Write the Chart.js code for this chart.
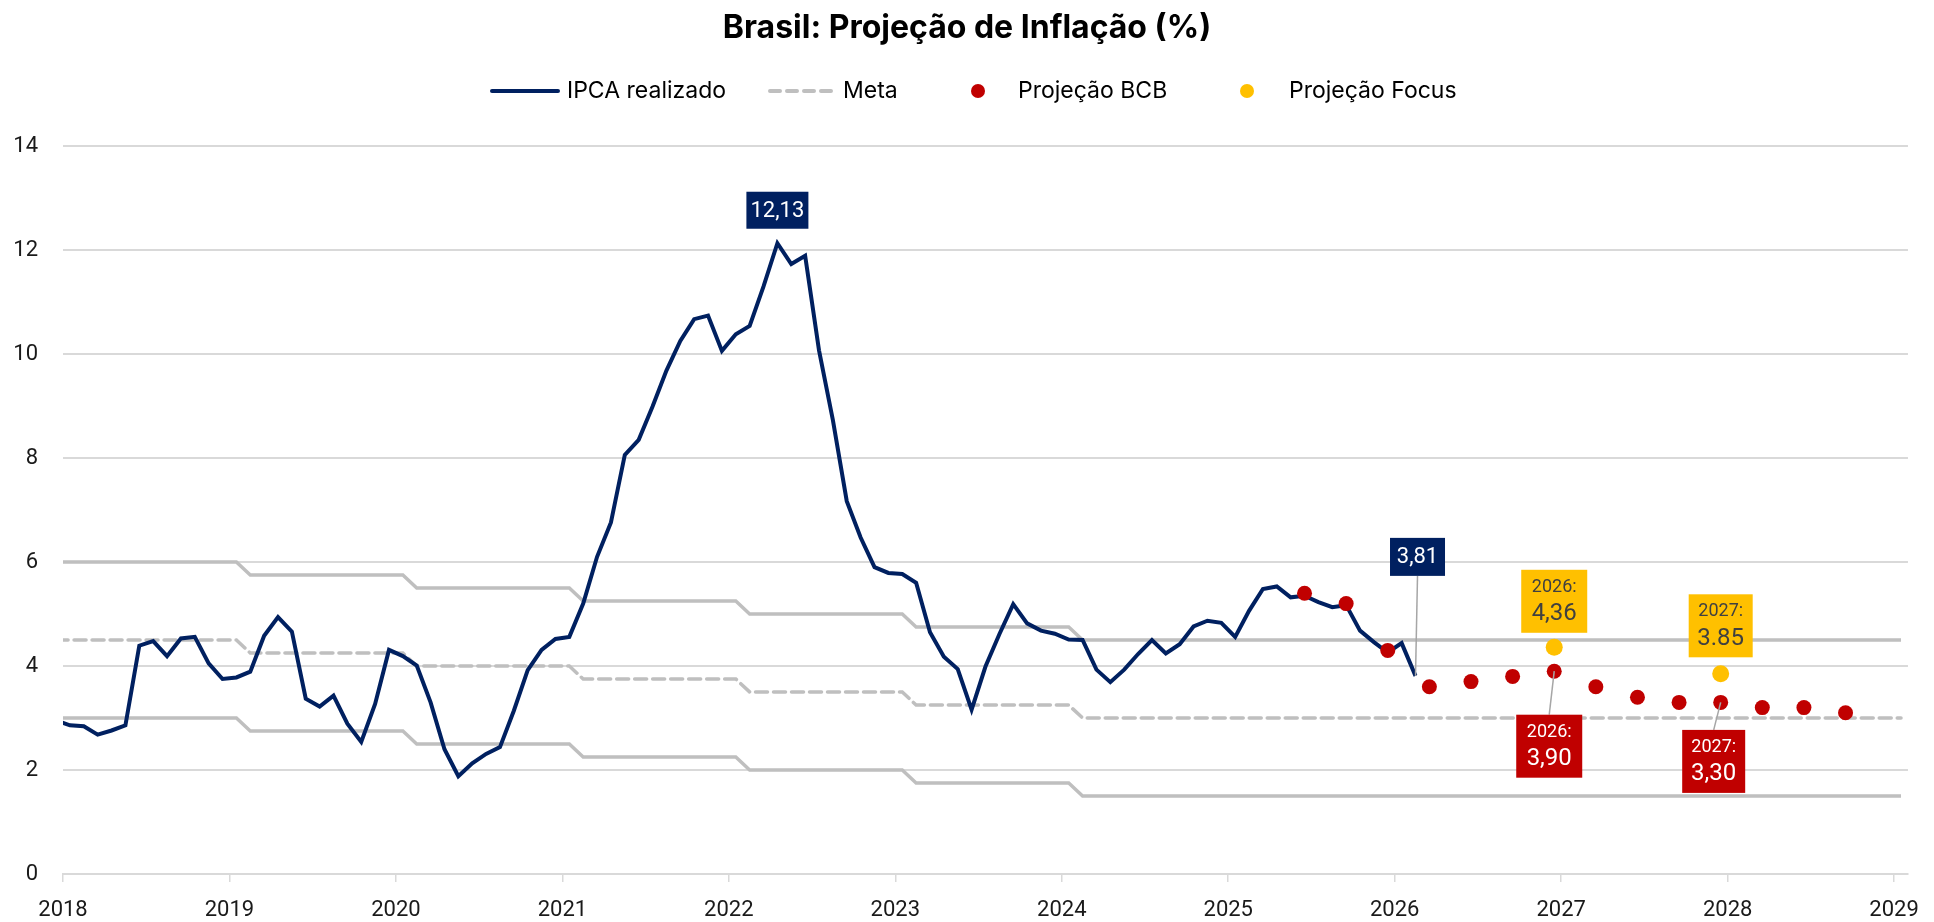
<!DOCTYPE html>
<html>
<head>
<meta charset="utf-8">
<script src="https://cdn.jsdelivr.net/npm/chart.js@4.4.1/dist/chart.umd.min.js"></script>
<style>
  html, body { margin: 0; background: #fff; }
  #wrap { width: 1934px; height: 922px; }
</style>
</head>
<body>
<div id="wrap"><canvas id="chart"></canvas></div>
<script>
// IPCA 12 meses, mensal, a partir de dez/2017
const ipcaStart = '2017-12';
const ipcaValues = [
  2.95,
  2.86, 2.84, 2.68, 2.76, 2.86, 4.39, 4.48, 4.19, 4.53, 4.56, 4.05, 3.75,
  3.78, 3.89, 4.58, 4.94, 4.66, 3.37, 3.22, 3.43, 2.89, 2.54, 3.27, 4.31,
  4.19, 4.01, 3.30, 2.40, 1.88, 2.13, 2.31, 2.44, 3.14, 3.92, 4.31, 4.52,
  4.56, 5.20, 6.10, 6.76, 8.06, 8.35, 8.99, 9.68, 10.25, 10.67, 10.74, 10.06,
  10.38, 10.54, 11.30, 12.13, 11.73, 11.89, 10.07, 8.73, 7.17, 6.47, 5.90, 5.79,
  5.77, 5.60, 4.65, 4.18, 3.94, 3.16, 3.99, 4.61, 5.19, 4.82, 4.68, 4.62,
  4.51, 4.50, 3.93, 3.69, 3.93, 4.23, 4.50, 4.24, 4.42, 4.76, 4.87, 4.83,
  4.56, 5.06, 5.48, 5.53, 5.32, 5.35, 5.23, 5.13, 5.17, 4.68, 4.46, 4.26,
  4.44, 3.81
];

// meta e bandas (pontos de mudança)
const metaDates = ['2017-12', '2019-01', '2019-02', '2020-01', '2020-02', '2021-01', '2021-02',
  '2022-01', '2022-02', '2023-01', '2023-02', '2024-01', '2024-02', '2029-01'];
const metaValues = [4.5, 4.5, 4.25, 4.25, 4.0, 4.0, 3.75, 3.75, 3.5, 3.5, 3.25, 3.25, 3.0, 3.0];
const upperValues = [6.0, 6.0, 5.75, 5.75, 5.5, 5.5, 5.25, 5.25, 5.0, 5.0, 4.75, 4.75, 4.5, 4.5];
const lowerValues = [3.0, 3.0, 2.75, 2.75, 2.5, 2.5, 2.25, 2.25, 2.0, 2.0, 1.75, 1.75, 1.5, 1.5];

const bcbDates = ['2025-06', '2025-09', '2025-12', '2026-03', '2026-06', '2026-09', '2026-12',
  '2027-03', '2027-06', '2027-09', '2027-12', '2028-03', '2028-06', '2028-09'];
const bcbValues = [5.4, 5.2, 4.3, 3.6, 3.7, 3.8, 3.9, 3.6, 3.4, 3.3, 3.3, 3.2, 3.2, 3.1];

const focusDates = ['2026-12', '2027-12'];
const focusValues = [4.36, 3.85];

const yearLabels = ['2018', '2019', '2020', '2021', '2022', '2023', '2024', '2025', '2026', '2027', '2028', '2029'];

const NAVY = '#002060';
const RED = '#c00000';
const YELLOW = '#ffc000';
const BAND = '#bfbfbf';
const GRID = '#d9d9d9';

// posição no eixo: meses desde jan/2018, no meio do mês
function monthX(s) {
  const [y, m] = s.split('-').map(Number);
  return (y - 2018) * 12 + (m - 1) + 0.5;
}
function pts(dates, values) {
  return values.map((v, i) => ({ x: monthX(dates[i]), y: v }));
}

const ipcaDates = [];
{
  let [y, m] = ipcaStart.split('-').map(Number);
  for (let i = 0; i < ipcaValues.length; i++) {
    ipcaDates.push(y + '-' + String(m).padStart(2, '0'));
    m++;
    if (m > 12) { m = 1; y++; }
  }
}

// caixas de destaque
const callouts = [
  { set: 0, date: '2022-04', lines: ['12,13'], fill: NAVY, color: '#fff', dx: 0, dy: -33, w: 62, h: 37 },
  { set: 0, date: '2026-02', lines: ['3,81'], fill: NAVY, color: '#fff', dx: 2, dy: -119, w: 55, h: 38, leader: true },
  { set: 2, date: '2026-12', lines: ['2026:', '4,36'], fill: YELLOW, color: '#404040', dx: 0, dy: -46, w: 66, h: 63 },
  { set: 2, date: '2027-12', lines: ['2027:', '3.85'], fill: YELLOW, color: '#404040', dx: 0, dy: -48, w: 64, h: 63 },
  { set: 1, date: '2026-12', lines: ['2026:', '3,90'], fill: RED, color: '#fff', dx: -5, dy: 75, w: 66, h: 63, leader: true },
  { set: 1, date: '2027-12', lines: ['2027:', '3,30'], fill: RED, color: '#fff', dx: -7, dy: 59, w: 63, h: 63, leader: true }
];
const calloutSets = [
  { dates: ipcaDates, values: ipcaValues },
  { dates: bcbDates, values: bcbValues },
  { dates: focusDates, values: focusValues }
];

const calloutPlugin = {
  id: 'callouts',
  afterDatasetsDraw(chart) {
    const { ctx, scales } = chart;
    ctx.save();
    callouts.forEach((c) => {
      const src = calloutSets[c.set];
      const v = src.values[src.dates.indexOf(c.date)];
      const px = scales.x.getPixelForValue(monthX(c.date));
      const py = scales.y.getPixelForValue(v);
      const cx = px + c.dx;
      const cy = py + c.dy;
      if (c.leader) {
        ctx.strokeStyle = '#a6a6a6';
        ctx.lineWidth = 1.5;
        ctx.beginPath();
        ctx.moveTo(px, py);
        ctx.lineTo(cx, c.dy < 0 ? cy + c.h / 2 : cy - c.h / 2);
        ctx.stroke();
      }
      ctx.fillStyle = c.fill;
      ctx.fillRect(cx - c.w / 2, cy - c.h / 2, c.w, c.h);
      ctx.fillStyle = c.color;
      ctx.textAlign = 'center';
      ctx.textBaseline = 'middle';
      if (c.lines.length === 1) {
        ctx.font = '22px Roboto';
        ctx.fillText(c.lines[0], cx, cy + 1);
      } else {
        ctx.font = '18px Roboto';
        ctx.fillText(c.lines[0], cx, cy - 14);
        ctx.font = '24px Roboto';
        ctx.fillText(c.lines[1], cx, cy + 13);
      }
    });
    ctx.restore();
  }
};

// título e legenda desenhados à mão
const chartTitle = 'Brasil: Projeção de Inflação (%)';
const legendItems = [
  { text: 'IPCA realizado', kind: 'line', color: NAVY, dash: [], x: 490, textX: 567 },
  { text: 'Meta', kind: 'line', color: BAND, dash: [10, 7], x: 768, textX: 843 },
  { text: 'Projeção BCB', kind: 'dot', color: RED, x: 978, textX: 1018 },
  { text: 'Projeção Focus', kind: 'dot', color: YELLOW, x: 1247, textX: 1289 }
];
const headerPlugin = {
  id: 'header',
  afterDraw(chart) {
    const ctx = chart.ctx;
    ctx.save();
    ctx.fillStyle = '#000';
    ctx.font = 'bold 32px Inter';
    ctx.textAlign = 'center';
    ctx.textBaseline = 'alphabetic';
    ctx.fillText(chartTitle, chart.width / 2, 38);

    const y = 91;
    legendItems.forEach((it) => {
      if (it.kind === 'line') {
        ctx.strokeStyle = it.color;
        ctx.lineWidth = 4;
        ctx.lineCap = 'round';
        ctx.setLineDash(it.dash);
        ctx.beginPath();
        ctx.moveTo(it.x + 2, y);
        ctx.lineTo(it.x + 68, y);
        ctx.stroke();
        ctx.setLineDash([]);
      } else {
        ctx.fillStyle = it.color;
        ctx.beginPath();
        ctx.arc(it.x, y, 7, 0, Math.PI * 2);
        ctx.fill();
      }
      ctx.fillStyle = '#000';
      ctx.font = '23px Inter';
      ctx.textAlign = 'left';
      ctx.textBaseline = 'middle';
      ctx.fillText(it.text, it.textX, y);
    });
    ctx.restore();
  }
};

new Chart(document.getElementById('chart'), {
  type: 'line',
  data: {
    datasets: [
      {
        label: 'Projeção Focus',
        data: pts(focusDates, focusValues),
        showLine: false,
        pointRadius: 8.5,
        pointBackgroundColor: YELLOW,
        pointBorderWidth: 0
      },
      {
        label: 'Projeção BCB',
        data: pts(bcbDates, bcbValues),
        showLine: false,
        pointRadius: 7.5,
        pointBackgroundColor: RED,
        pointBorderWidth: 0
      },
      {
        label: 'IPCA realizado',
        data: pts(ipcaDates, ipcaValues),
        borderColor: NAVY,
        borderWidth: 4,
        pointRadius: 0,
        tension: 0,
        clip: 0
      },
      {
        label: 'Meta',
        data: pts(metaDates, metaValues),
        borderColor: BAND,
        borderWidth: 3.5,
        borderDash: [12, 6],
        borderCapStyle: 'round',
        pointRadius: 0,
        clip: 0
      },
      {
        label: 'Teto',
        data: pts(metaDates, upperValues),
        borderColor: BAND,
        borderWidth: 3.5,
        pointRadius: 0,
        clip: 0
      },
      {
        label: 'Piso',
        data: pts(metaDates, lowerValues),
        borderColor: BAND,
        borderWidth: 3.5,
        pointRadius: 0,
        clip: 0
      }
    ]
  },
  options: {
    responsive: true,
    maintainAspectRatio: false,
    animation: false,
    devicePixelRatio: 1,
    layout: { padding: { left: 0, right: 24, top: 146, bottom: 0 } },
    plugins: {
      legend: { display: false },
      tooltip: { enabled: false },
      title: { display: false }
    },
    scales: {
      x: {
        type: 'linear',
        min: 0,
        max: 133,
        afterFit(scale) { scale.height = 48; },
        afterBuildTicks(scale) {
          scale.ticks = yearLabels.map((_, i) => ({ value: i * 12 }));
        },
        ticks: {
          autoSkip: false,
          maxRotation: 0,
          padding: 15,
          color: '#1a1a1a',
          font: { family: 'Roboto', size: 22 },
          callback: (v) => yearLabels[v / 12]
        },
        grid: { drawOnChartArea: false, drawTicks: true, tickLength: 8, color: GRID, lineWidth: 1.5 },
        border: { display: true, color: GRID, width: 2 }
      },
      y: {
        min: 0,
        max: 14,
        afterFit(scale) { scale.width = 63; },
        ticks: {
          stepSize: 2,
          padding: 25,
          color: '#1a1a1a',
          font: { family: 'Roboto', size: 22 }
        },
        grid: { color: GRID, lineWidth: 2, drawTicks: false, tickLength: 0 },
        border: { display: false }
      }
    }
  },
  plugins: [calloutPlugin, headerPlugin]
});
</script>
</body>
</html>
